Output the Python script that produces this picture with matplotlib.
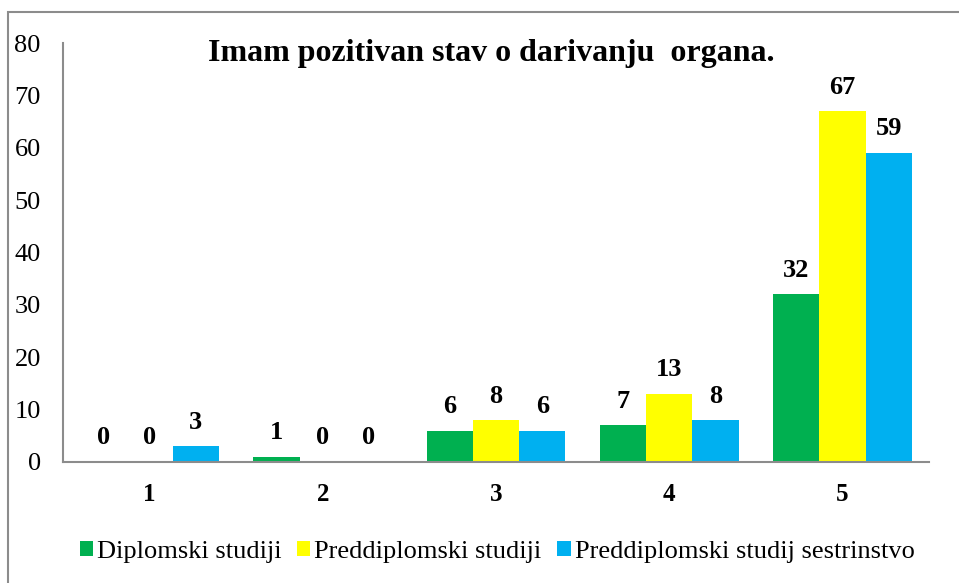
import matplotlib
matplotlib.use("Agg")
import matplotlib.pyplot as plt
import numpy as np
from matplotlib.patches import Rectangle

categories = ["1", "2", "3", "4", "5"]
series_names = ["Diplomski studiji", "Preddiplomski studiji", "Preddiplomski studij sestrinstvo"]
diplomski = [0, 1, 6, 7, 32]
preddiplomski = [0, 0, 8, 13, 67]
sestrinstvo = [3, 0, 6, 8, 59]
colors = ["#00B050", "#FFFF00", "#00B0F0"]
title = "Imam pozitivan stav o darivanju  organa."
yticks = [0, 10, 20, 30, 40, 50, 60, 70, 80]

plt.rcParams["font.family"] = ["Liberation Serif", "DejaVu Serif"]

W, H = 959, 583
fig = plt.figure(figsize=(W / 100, H / 100), dpi=100)
fig.patch.set_facecolor("white")

# outer border (chart area frame)
fig.add_artist(Rectangle((8 / W, -0.1), 1.2, (H - 12) / H + 0.1, transform=fig.transFigure,
                         fill=False, edgecolor="#8c8c8c", linewidth=1.5))

ax = fig.add_axes([63 / W, (H - 462) / H, (929 - 63) / W, (462 - 43) / H])
x = np.arange(len(categories))
bw = 0.267
data = [diplomski, preddiplomski, sestrinstvo]
for i, (vals, c, name) in enumerate(zip(data, colors, series_names)):
    ax.bar(x + (i - 1) * bw, vals, bw, color=c, label=name, linewidth=0)
    for xi, v in zip(x + (i - 1) * bw, vals):
        ax.annotate(str(v), (xi, v), xytext=(0, 9), textcoords="offset points",
                    ha="center", va="bottom", fontsize=19, fontweight="bold")

ax.set_xlim(-0.5, len(categories) - 0.5)
ax.set_ylim(0, 80)
ax.set_yticks(yticks)
ax.set_yticklabels([str(t) for t in yticks], fontsize=19)
ax.set_xticks(x)
ax.set_xticklabels(categories, fontsize=18, fontweight="bold")
ax.tick_params(axis="y", length=0, pad=16)
ax.tick_params(axis="x", length=0, pad=15)
for s in ["top", "right"]:
    ax.spines[s].set_visible(False)
for s in ["left", "bottom"]:
    ax.spines[s].set_color("#8c8c8c")
    ax.spines[s].set_linewidth(1.5)

fig.text(491 / W, (H - 53) / H, title, ha="center", va="center", fontsize=23, fontweight="bold")

leg = fig.legend(loc="center", bbox_to_anchor=(497 / W, (H - 552) / H), ncol=3, frameon=False,
                 fontsize=19, handlelength=0.5, handleheight=0.5, handletextpad=0.15,
                 columnspacing=0.6)

fig.savefig("out.png", dpi=100, facecolor="white")
